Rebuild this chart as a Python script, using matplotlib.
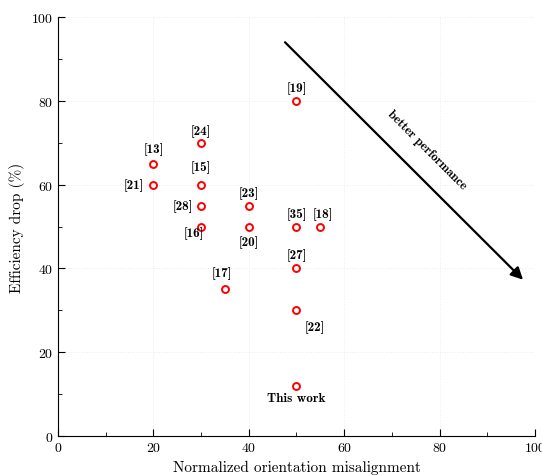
import matplotlib
matplotlib.use("Agg")
import matplotlib.pyplot as plt
from matplotlib.ticker import MultipleLocator

plt.rcParams['font.family'] = 'serif'
plt.rcParams['font.serif'] = ['cmr10']
plt.rcParams['mathtext.fontset'] = 'cm'
plt.rcParams['axes.formatter.use_mathtext'] = True

# data: misalignment, efficiency drop, reference label
refs = ["[13]", "[21]", "[24]", "[15]", "[28]", "[16]", "[23]", "[20]",
        "[17]", "[19]", "[35]", "[18]", "[27]", "[22]", "This work"]
misalign = [20, 20, 30, 30, 30, 30, 40, 40, 35, 50, 50, 55, 50, 50, 50]
eff_drop = [65, 60, 70, 60, 55, 50, 55, 50, 35, 80, 50, 50, 40, 30, 12]

# label offsets in points (dx, dy)
offsets = [(0, 11), (-14, 0), (0, 8.5), (0, 13), (-13, 0), (-5, -4.5),
           (0, 9.5), (0, -11), (-2, 12), (0, 9.5), (0, 9.5), (2, 9.5),
           (0, 10), (13, -12), (0, -9)]

fig = plt.figure(figsize=(5.42, 4.77), dpi=100)
ax = fig.add_axes([0.107, 0.084, 0.88, 0.878])

ax.plot(misalign, eff_drop, 'o', markersize=5, markerfacecolor='none',
        markeredgecolor='red', markeredgewidth=1.4, zorder=3)

for x, y, lab, (dx, dy) in zip(misalign, eff_drop, refs, offsets):
    ax.annotate(lab, (x, y), xytext=(dx, dy), textcoords='offset points',
                ha='center', va='center', fontsize=9.5, family='cmb10')

# arrow
ax.annotate("", xy=(97.5, 37.3), xytext=(47.6, 94),
            arrowprops=dict(arrowstyle='-|>', color='black', lw=1.6,
                            mutation_scale=18, shrinkA=0, shrinkB=0))
ax.text(77.3, 68.5, "better performance", rotation=-45, ha='center',
        va='center', fontsize=9, family='cmb10', rotation_mode='anchor')

ax.set_xlim(0, 100)
ax.set_ylim(0, 100)
ax.xaxis.set_major_locator(MultipleLocator(20))
ax.xaxis.set_minor_locator(MultipleLocator(10))
ax.yaxis.set_major_locator(MultipleLocator(20))
ax.yaxis.set_minor_locator(MultipleLocator(10))
ax.tick_params(which='both', direction='in', top=False, right=False, labelsize=10)
ax.tick_params(which='major', length=5)
ax.tick_params(which='minor', length=3)
ax.spines['top'].set_visible(False)
ax.spines['right'].set_visible(False)
ax.grid(True, which='major', color='#ececec', linestyle=':', linewidth=0.7)

ax.set_xlabel("Normalized orientation misalignment", fontsize=11)
ax.set_ylabel("Efficiency drop (%)", fontsize=11)

fig.savefig("out.png", dpi=100)
